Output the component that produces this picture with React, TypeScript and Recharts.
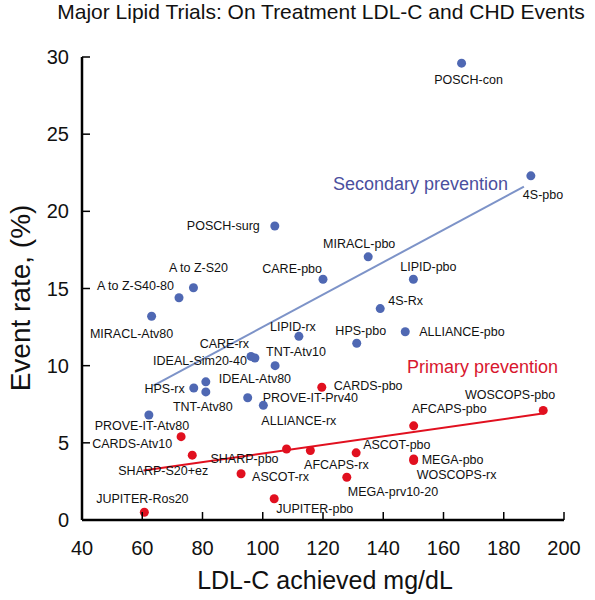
import React from 'react';
import { ScatterChart, Scatter, XAxis, YAxis, ReferenceLine } from 'recharts';

// [trial, LDL-C achieved (mg/dL), event rate (%)]
const secondaryTrials: Array<[string, number, number]> = [
  ['POSCH-con', 166, 29.6],
  ['4S-pbo', 189, 22.3],
  ['POSCH-surg', 104, 19.05],
  ['MIRACL-pbo', 135, 17.05],
  ['CARE-pbo', 120, 15.6],
  ['LIPID-pbo', 150, 15.6],
  ['A to Z-S20', 77, 15.05],
  ['A to Z-S40-80', 72.2, 14.4],
  ['4S-Rx', 139, 13.7],
  ['MIRACL-Atv80', 63.1, 13.2],
  ['ALLIANCE-pbo', 147.3, 12.2],
  ['LIPID-rx', 112, 11.9],
  ['HPS-pbo', 131.2, 11.45],
  ['CARE-rx', 96.1, 10.6],
  ['IDEAL-Sim20-40', 97.4, 10.5],
  ['TNT-Atv10', 104.1, 10.0],
  ['IDEAL-Atv80', 81.1, 8.95],
  ['HPS-rx', 77.1, 8.55],
  ['TNT-Atv80', 81.1, 8.3],
  ['PROVE-IT-Prv40', 95, 7.92],
  ['ALLIANCE-rx', 100.2, 7.43],
  ['PROVE-IT-Atv80', 62.2, 6.8],
];

const primaryTrials: Array<[string, number, number]> = [
  ['CARDS-pbo', 119.6, 8.6],
  ['WOSCOPS-pbo', 193.1, 7.1],
  ['AFCAPS-pbo', 150.1, 6.1],
  ['CARDS-Atv10', 72.9, 5.4],
  ['SHARP-pbo', 107.9, 4.6],
  ['AFCAPS-rx', 115.8, 4.5],
  ['ASCOT-pbo', 131, 4.35],
  ['SHARP-S20+ez', 76.6, 4.2],
  ['MEGA-pbo', 150.1, 3.95],
  ['WOSCOPS-rx', 150.1, 3.85],
  ['ASCOT-rx', 92.8, 3.0],
  ['MEGA-prv10-20', 127.9, 2.77],
  ['JUPITER-pbo', 103.8, 1.38],
  ['JUPITER-Ros20', 60.7, 0.5],
];

// fitted trend lines (end points)
const secondaryTrend = [{ x: 63.7, y: 8.7 }, { x: 186.7, y: 21.6 }];
const primaryTrend = [{ x: 60.4, y: 3.2 }, { x: 192.9, y: 6.9 }];

const xTicks = [40, 60, 80, 100, 120, 140, 160, 180, 200];
const yTicks = [0, 5, 10, 15, 20, 25, 30];

// label placement next to each dot: anchor, dx, dy (px)
const labelPos: Record<string, [string, number, number]> = {
  'POSCH-con': ['middle', 7, 16],
  '4S-pbo': ['start', -8, 19],
  'POSCH-surg': ['end', -15, 0],
  'MIRACL-pbo': ['middle', -9, -13],
  'CARE-pbo': ['end', -1, -11],
  'LIPID-pbo': ['middle', 15, -13],
  'A to Z-S20': ['middle', 5, -20],
  'A to Z-S40-80': ['end', -5, -12],
  '4S-Rx': ['start', 8, -8],
  'MIRACL-Atv80': ['middle', -20, 17],
  'ALLIANCE-pbo': ['start', 14, 0],
  'LIPID-rx': ['middle', -6, -10],
  'HPS-pbo': ['middle', 4, -13],
  'CARE-rx': ['end', -2, -13],
  'IDEAL-Sim20-40': ['end', -8, 3],
  'TNT-Atv10': ['start', -9, -14],
  'IDEAL-Atv80': ['start', 13, -3],
  'HPS-rx': ['end', -9, 0],
  'TNT-Atv80': ['middle', -3, 15],
  'PROVE-IT-Prv40': ['start', 15, 0],
  'ALLIANCE-rx': ['start', -2, 15],
  'PROVE-IT-Atv80': ['middle', -7, 10],
  'CARDS-pbo': ['start', 12, -2],
  'WOSCOPS-pbo': ['end', 12, -16],
  'AFCAPS-pbo': ['start', -2, -17],
  'CARDS-Atv10': ['end', -9, 7],
  'SHARP-pbo': ['end', -8, 9],
  'AFCAPS-rx': ['middle', 26, 14],
  'ASCOT-pbo': ['start', 7, -8],
  'SHARP-S20+ez': ['end', 16, 15],
  'MEGA-pbo': ['start', 8, 0],
  'WOSCOPS-rx': ['start', 3, 14],
  'ASCOT-rx': ['start', 11, 3],
  'MEGA-prv10-20': ['start', 1, 14],
  'JUPITER-pbo': ['start', 2, 10],
  'JUPITER-Ros20': ['middle', -2, -14],
};

const FONT = '"Liberation Sans", Arial, Helvetica, sans-serif';
const BLUE = '#4f68b3';
const BLUE_LINE = '#7d93c8';
const RED = '#e1101f';
const W = 595;
const H = 600;
const PLOT_LEFT = 82;
const PLOT_BOTTOM = 520;

const toPoints = (rows: Array<[string, number, number]>) =>
  rows.map(([name, x, y]) => ({ name, x, y }));

const renderPoint = (color: string) => (props: any) => {
  const { cx, cy, payload } = props;
  const [anchor, dx, dy] = labelPos[payload.name] || ['start', 8, 0];
  return (
    <g>
      <circle cx={cx} cy={cy} r={4.5} fill={color} />
      <text
        x={cx + dx}
        y={cy + dy + 4.5}
        textAnchor={anchor as any}
        fontSize={12.5}
        fontFamily={FONT}
        fill="#111"
      >
        {payload.name}
      </text>
    </g>
  );
};

const XTick = (props: any) => {
  const { x, payload } = props;
  return (
    <g>
      <line x1={x} y1={PLOT_BOTTOM} x2={x} y2={PLOT_BOTTOM - 8} stroke="#000" strokeWidth={1.5} />
      <text x={x} y={555} textAnchor="middle" fontSize={20} fontFamily={FONT} fill="#111">
        {payload.value}
      </text>
    </g>
  );
};

const YTick = (props: any) => {
  const { y, payload } = props;
  return (
    <g>
      <line x1={PLOT_LEFT} y1={y} x2={PLOT_LEFT + 8} y2={y} stroke="#000" strokeWidth={1.5} />
      <text x={69} y={y + 7} textAnchor="end" fontSize={20} fontFamily={FONT} fill="#111">
        {payload.value}
      </text>
    </g>
  );
};

export default function App() {
  const secondary = toPoints(secondaryTrials);
  const primary = toPoints(primaryTrials);

  return (
    <div style={{ position: 'absolute', left: 0, top: 0, width: W, height: H, background: '#fff' }}>
      <ScatterChart width={W} height={H} margin={{ top: 57, right: 31, bottom: 0, left: 0 }}>
        <XAxis
          type="number"
          dataKey="x"
          domain={[40, 200]}
          ticks={xTicks}
          height={80}
          axisLine={{ stroke: '#000', strokeWidth: 2.5 }}
          tickLine={false}
          tick={<XTick />}
          allowDataOverflow
        />
        <YAxis
          type="number"
          dataKey="y"
          domain={[0, 30]}
          ticks={yTicks}
          width={82}
          axisLine={{ stroke: '#000', strokeWidth: 2.5 }}
          tickLine={false}
          tick={<YTick />}
          allowDataOverflow
        />
        <ReferenceLine segment={secondaryTrend} stroke={BLUE_LINE} strokeWidth={2} ifOverflow="visible" />
        <ReferenceLine segment={primaryTrend} stroke={RED} strokeWidth={2} ifOverflow="visible" />
        <Scatter data={secondary} fill={BLUE} shape={renderPoint(BLUE)} isAnimationActive={false} />
        <Scatter data={primary} fill={RED} shape={renderPoint(RED)} isAnimationActive={false} />
      </ScatterChart>
      <svg
        width={W}
        height={H}
        style={{ position: 'absolute', left: 0, top: 0, pointerEvents: 'none' }}
        fontFamily={FONT}
      >
        <text x={321} y={19} textAnchor="middle" fontSize={21} fill="#111">
          Major Lipid Trials: On Treatment LDL-C and CHD Events
        </text>
        <text x={333} y={190} fontSize={18} fill="#4b4f9e">
          Secondary prevention
        </text>
        <text x={407} y={373} fontSize={18} fill="#d8162e">
          Primary prevention
        </text>
        <text transform="translate(30, 298) rotate(-90)" textAnchor="middle" fontSize={28} fill="#111">
          Event rate, (%)
        </text>
        <text x={325} y={589} textAnchor="middle" fontSize={25} fill="#111">
          LDL-C achieved mg/dL
        </text>
      </svg>
    </div>
  );
}
